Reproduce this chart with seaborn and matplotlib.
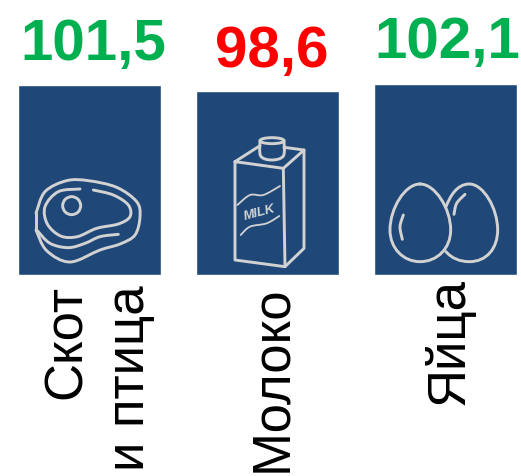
# -*- coding: utf-8 -*-
import numpy as np
import pandas as pd
import seaborn as sns
import matplotlib.pyplot as plt
from matplotlib.path import Path
from matplotlib.patches import PathPatch, Ellipse

categories = ['Скот и птица', 'Молоко', 'Яйца']
values = [101.5, 98.6, 102.1]
value_labels = ['101,5', '98,6', '102,1']
category_labels = ['Скот\nи птица', 'Молоко', 'Яйца']

BLUE = '#1F4878'
ICON = '#D2D2D2'
GREEN = '#00B050'
RED = '#FF0000'

sns.set_style('white')
plt.rcParams['font.family'] = ['Liberation Sans', 'DejaVu Sans']

W, H = 521, 476
BASE_Y = 275       # pixel row of the bar baseline
PX_PER_UNIT = 1.87

fig = plt.figure(figsize=(W / 100, H / 100), dpi=100)
ax = fig.add_axes([0, 0, 1, 1])

df = pd.DataFrame({'category': categories, 'value': values})
sns.barplot(data=df, x='category', y='value', color=BLUE, saturation=1,
            width=0.805, ax=ax)
ax.set_xlim(-89.6 / 178, (W - 89.6) / 178)
ax.set_ylim(-(H - BASE_Y) / PX_PER_UNIT, BASE_Y / PX_PER_UNIT)
ax.axis('off')

# overlay in pixel coordinates for the icons and text
ov = fig.add_axes([0, 0, 1, 1])
ov.set_xlim(0, W)
ov.set_ylim(H, 0)
ov.axis('off')
ov.patch.set_alpha(0)


def smooth(points, closed=False):
    # catmull-rom through the points, written as bezier segments
    p = np.array(points, dtype=float)
    n = len(p)
    verts = [p[0]]
    codes = [Path.MOVETO]
    for i in range(n if closed else n - 1):
        if closed:
            p0, p1, p2, p3 = p[(i - 1) % n], p[i], p[(i + 1) % n], p[(i + 2) % n]
        else:
            p0, p1, p2, p3 = p[max(i - 1, 0)], p[i], p[i + 1], p[min(i + 2, n - 1)]
        verts += [p1 + (p2 - p0) / 6, p2 - (p3 - p1) / 6, p2]
        codes += [Path.CURVE4] * 3
    return Path(verts, codes)


def stroke(points, ox, oy, curved=True, closed=False, lw=2.1):
    pts = [(x / 3 + ox, y / 3 + oy) for x, y in points]
    if curved:
        path = smooth(pts, closed)
    else:
        path = Path(pts + [pts[0]] if closed else pts)
    ov.add_patch(PathPatch(path, fill=False, edgecolor=ICON, lw=lw,
                           capstyle='round', joinstyle='round'))


def bezier(points, ox, oy, lw=2.1):
    # first point, then three points per cubic segment
    pts = [(x / 3 + ox, y / 3 + oy) for x, y in points]
    codes = [Path.MOVETO] + [Path.CURVE4] * (len(pts) - 1)
    ov.add_patch(PathPatch(Path(pts, codes), fill=False, edgecolor=ICON, lw=lw,
                           capstyle='round', joinstyle='round'))


# meat
stroke([(108, 400), (135, 335), (200, 302), (265, 302), (350, 322), (410, 365),
        (420, 410), (405, 465), (360, 492), (300, 510), (210, 546), (140, 512),
        (108, 450)], 0, 80)
stroke([(108, 450), (108, 400)], 0, 80, curved=False)
stroke([(112, 452), (150, 490), (205, 503), (255, 490), (300, 470), (355, 463)], 0, 80)
stroke([(240, 327), (175, 335), (135, 380), (142, 432), (182, 468), (232, 470),
        (290, 445), (355, 432), (390, 410), (385, 375), (340, 345), (280, 330)], 0, 80)
ov.add_patch(Ellipse((215 / 3, 377 / 3 + 80), 18, 18, fill=False, edgecolor=ICON, lw=2.1))

# milk carton
stroke([(705, 245), (850, 265), (855, 560), (705, 540)], 0, 80, curved=False, closed=True)
stroke([(850, 265), (912, 210), (912, 505), (855, 560)], 0, 80, curved=False)
stroke([(705, 245), (780, 197)], 0, 80, curved=False)
stroke([(852, 202), (912, 210)], 0, 80, curved=False)
stroke([(780, 182), (782, 228), (815, 240), (850, 228), (852, 182)], 0, 80)
ov.add_patch(Ellipse((816 / 3, 182 / 3 + 80), 24, 6, fill=False, edgecolor=ICON, lw=2.1))
stroke([(712, 375), (750, 345), (790, 345), (840, 318)], 0, 80, lw=1.3)
stroke([(722, 465), (750, 440), (800, 430), (838, 408)], 0, 80, lw=1.3)
ov.text(778 / 3, 398 / 3 + 80, 'MILK', color=ICON, fontsize=9.5, fontweight='bold',
        style='italic', rotation=15, ha='center', va='center')

# eggs
bezier([(240, 312), (195, 312), (150, 385), (150, 450),
        (150, 505), (190, 545), (240, 545),
        (292, 545), (332, 505), (332, 450),
        (332, 385), (285, 312), (240, 312)], 340, 80)
bezier([(318, 380), (330, 350), (350, 312), (388, 312),
        (430, 312), (473, 385), (473, 450),
        (473, 505), (440, 545), (388, 545),
        (360, 545), (335, 535), (318, 515)], 340, 80)
stroke([(190, 405), (180, 440), (187, 478)], 340, 80)
stroke([(375, 343), (350, 370), (342, 403)], 340, 80)

# values and captions
value_x = [93, 272, 447]
value_base = [60, 67, 58]
value_colors = [GREEN, RED, GREEN]
for x, y, s, c in zip(value_x, value_base, value_labels, value_colors):
    ov.text(x, y, s, color=c, fontsize=42, fontweight='bold', ha='center', va='baseline')

label_x = [98.5, 272, 449]
label_top = [285, 285, 278]
for x, y, s in zip(label_x, label_top, category_labels):
    ov.text(x, y, s, color='black', fontsize=38, rotation=90, ha='center', va='top',
            multialignment='right', linespacing=1.345)

plt.savefig('out.png', dpi=100)
